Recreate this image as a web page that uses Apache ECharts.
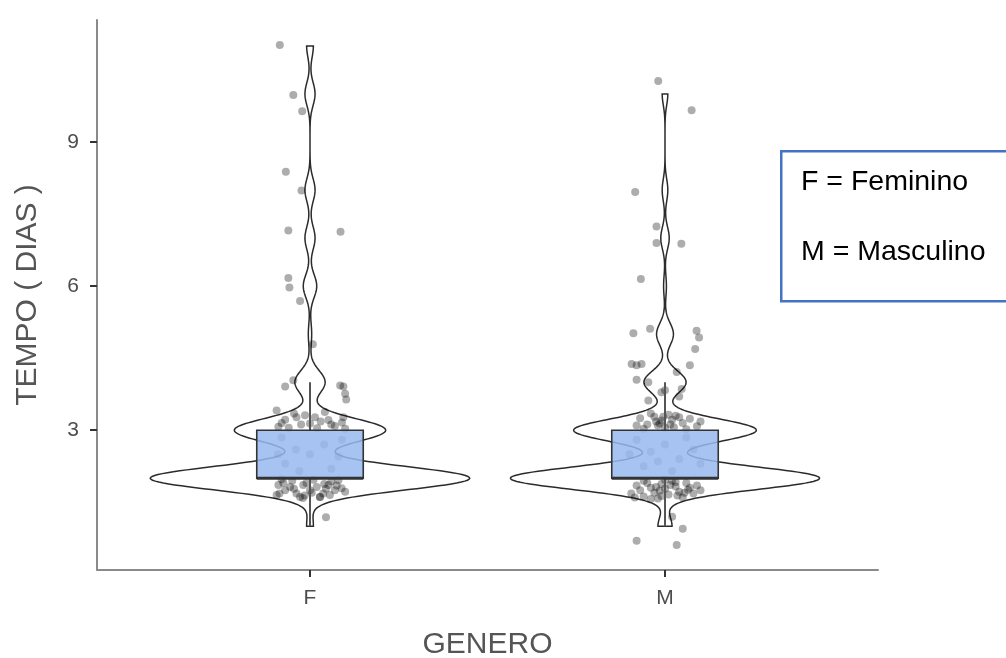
<!DOCTYPE html>
<html><head><meta charset="utf-8">
<script src="https://cdn.jsdelivr.net/npm/echarts@6/dist/echarts.min.js"></script>
<style>html,body{margin:0;padding:0;background:#fff}#c{width:1006px;height:658px}</style>
</head><body><div id="c"></div>
<script>
// ---- data ----
const categories = ['F', 'M'];
const yTicks = [3, 6, 9];
const days = [1, 2, 3, 4, 5, 6, 7, 8, 9, 10, 11];
const countsF = [2, 95, 45, 9, 1, 4, 3, 3, 0, 3, 2];
const countsM = [5, 110, 65, 15, 6, 1, 3, 2, 0, 2, 0];
const legendLines = ['F = Feminino', 'M = Masculino'];
const axisTitleX = 'GENERO';
const axisTitleY = 'TEMPO ( DIAS )';
// jittered observations [x, y] (x = group position + jitter)
const pointsF = [
  [0.915,11.02],[0.953,9.98],[0.978,9.64],[0.932,8.38],[0.976,7.99],[0.939,7.16],[1.086,7.13],
  [0.939,6.17],[0.942,5.97],[0.972,5.69],[1.008,4.79],[0.953,4.04],[0.930,3.91],[1.085,3.93],
  [1.094,3.91],[1.099,3.76],[1.102,3.64],
  [0.906,3.41],[0.962,3.27],[0.986,3.31],[1.014,3.27],[1.042,3.38],[1.052,3.21],[1.094,3.27],
  [0.911,3.07],[1.0,3.14],[1.099,3.03],[0.93,3.22],[0.975,3.12],[1.03,3.18],[1.07,3.09],[0.955,3.35],
  [0.94,3.05],[1.02,3.04],[1.06,3.12],[0.92,3.15],[1.09,3.16],
  [0.92,2.85],[0.96,2.6],[1.04,2.7],[1.08,2.45],[0.93,2.3],[1.0,2.5],[1.06,2.2],[0.97,2.15],[0.91,2.5],[1.09,2.8],
  [0.911,1.86],[0.930,1.75],[0.944,1.82],[0.962,1.68],[0.981,1.86],[1.0,1.75],[1.019,1.82],[1.037,1.68],
  [1.052,1.86],[1.070,1.75],[1.089,1.79],[1.099,1.72],[0.914,1.68],[0.972,1.61],[1.028,1.61],[1.056,1.65],
  [0.906,1.65],[0.98,1.59],[1.028,1.61],[0.95,1.95],[1.01,1.97],[1.06,1.93],[0.92,1.98],[1.08,1.96],
  [0.99,1.9],[1.04,1.88],[0.955,1.78],[1.005,1.7],[1.045,1.78],[0.925,1.9],[1.075,1.85],[0.985,1.64],
  [1.045,1.19]
];
const pointsM = [
  [1.981,10.27],[2.075,9.66],[1.916,7.96],[1.976,7.24],[1.976,6.90],[2.046,6.88],[1.932,6.15],
  [1.911,5.02],[1.958,5.11],[2.089,5.07],[2.096,4.93],[2.085,4.69],[1.906,4.38],[1.920,4.35],
  [1.934,4.38],[2.070,4.35],[1.920,4.05],[1.953,4.0],[2.033,4.21],[2.047,3.86],[2.0,3.83],
  [1.953,3.62],[1.99,3.79],[2.04,3.70],
  [1.93,3.25],[1.95,3.12],[1.97,3.28],[1.99,3.2],[2.0,3.05],[2.02,3.22],[2.03,3.3],[2.05,3.15],
  [2.07,3.24],[2.09,3.08],[2.1,3.18],[1.92,3.1],[1.96,3.35],[2.01,3.32],[2.06,3.02],[1.98,3.1],
  [2.04,3.27],[1.94,3.03],[1.975,3.18],[2.015,3.12],[1.995,3.28],[2.025,3.06],[1.985,3.14],
  [1.92,2.8],[1.96,2.55],[2.0,2.7],[2.04,2.4],[2.08,2.6],[1.94,2.25],[2.02,2.15],[2.06,2.85],
  [1.98,2.35],[2.1,2.3],[1.9,2.5],
  [1.905,1.68],[1.92,1.85],[1.93,1.75],[1.94,1.62],[1.95,1.9],[1.96,1.8],[1.97,1.7],[1.98,1.58],
  [1.99,1.88],[2.0,1.78],[2.01,1.66],[2.02,1.95],[2.03,1.83],[2.04,1.72],[2.05,1.6],[2.06,1.9],
  [2.07,1.8],[2.08,1.68],[2.09,1.85],[2.1,1.75],[1.94,1.95],[1.99,1.63],[2.03,1.92],[1.96,1.57],
  [2.055,1.7],[1.915,1.6],[2.0,1.97],[1.975,1.82],[2.015,1.86],[2.035,1.64],[1.985,1.74],[2.065,1.76],
  [2.02,1.20],[2.05,0.95],[1.92,0.70],[2.033,0.61]
];

// ---- statistics (density + box stats from the counts) ----
function expand(counts){const v=[];counts.forEach((c,i)=>{for(let k=0;k<c;k++)v.push(days[i]);});return v;}
function quant(s,p){const h=(s.length-1)*p,lo=Math.floor(h);return lo+1<s.length?s[lo]+(h-lo)*(s[lo+1]-s[lo]):s[lo];}
function stats(counts){
  const v=expand(counts).sort((a,b)=>a-b), n=v.length;
  const mean=v.reduce((a,b)=>a+b,0)/n;
  const sd=Math.sqrt(v.reduce((a,b)=>a+(b-mean)*(b-mean),0)/(n-1));
  const q1=quant(v,0.25), med=quant(v,0.5), q3=quant(v,0.75), iqr=q3-q1;
  const bw=0.9*Math.min(sd,iqr/1.34)*Math.pow(n,-0.2);
  const lo=v[0], hi=v[n-1], ys=[], ds=[];
  for(let i=0;i<512;i++){
    const y=lo+(hi-lo)*i/511; let d=0;
    counts.forEach((c,j)=>{if(c){const z=(y-days[j])/bw;d+=c*Math.exp(-0.5*z*z);}});
    ys.push(y); ds.push(d/(n*bw*Math.sqrt(2*Math.PI)));
  }
  const wl=v.find(x=>x>=q1-1.5*iqr), wh=[...v].reverse().find(x=>x<=q3+1.5*iqr);
  return {ys,ds,q1,med,q3,wl,wh};
}
const groups=[stats(countsF),stats(countsM)];
const maxD=Math.max(...groups.map(g=>Math.max(...g.ds)));
const allY=pointsF.concat(pointsM).map(p=>p[1]);
const yLo=Math.min(...allY), yHi=Math.max(...allY), yPad=(yHi-yLo)*0.05;

const FONT="'Liberation Sans', Arial, sans-serif";
const chart=echarts.init(document.getElementById('c'));
chart.setOption({
  animation:false,
  backgroundColor:'#fff',
  grid:{left:97,right:128,top:20,bottom:88,containLabel:false,outerBoundsMode:'none'},
  xAxis:{
    type:'value',min:0.4,max:2.6,
    axisLine:{show:true,lineStyle:{color:'#8a8a8a',width:2}},
    axisTick:{show:true,customValues:[1,2],length:7,lineStyle:{color:'#333',width:2}},
    axisLabel:{customValues:[1,2],formatter:v=>categories[Math.round(v)-1],fontSize:21,color:'#4d4d4d',margin:18,fontFamily:FONT},
    splitLine:{show:false},
    name:axisTitleX,nameLocation:'middle',nameGap:60,
    nameTextStyle:{fontSize:30,color:'#555',fontFamily:FONT}
  },
  yAxis:{
    type:'value',min:yLo-yPad,max:yHi+yPad,
    axisLine:{show:true,lineStyle:{color:'#8a8a8a',width:2}},
    axisTick:{show:true,customValues:yTicks,length:7,lineStyle:{color:'#333',width:2}},
    axisLabel:{customValues:yTicks,fontSize:21,color:'#4d4d4d',margin:18,fontFamily:FONT},
    splitLine:{show:false},
    name:axisTitleY,nameLocation:'middle',nameGap:54,
    nameTextStyle:{fontSize:30,color:'#555',fontFamily:FONT}
  },
  series:[
    {
      type:'custom',z:1,silent:true,
      data:groups.map((g,i)=>[i+1,g.med]),
      encode:{x:0,y:1},
      renderItem:(params,api)=>{
        const g=groups[params.dataIndex], cx=api.value(0), pts=[];
        for(let i=0;i<g.ys.length;i++) pts.push(api.coord([cx-g.ds[i]/maxD*0.45,g.ys[i]]));
        for(let i=g.ys.length-1;i>=0;i--) pts.push(api.coord([cx+g.ds[i]/maxD*0.45,g.ys[i]]));
        return {type:'polygon',shape:{points:pts},style:{fill:'rgba(255,255,255,0)',stroke:'#2b2b2b',lineWidth:1.5}};
      }
    },
    {
      type:'scatter',z:2,symbolSize:8,silent:true,
      itemStyle:{color:'rgba(0,0,0,0.4)'},
      data:pointsF.concat(pointsM)
    },
    {
      type:'custom',z:3,silent:true,
      data:groups.map((g,i)=>[i+1,g.wl,g.q1,g.med,g.q3,g.wh]),
      encode:{x:0,y:[1,2,3,4,5]},
      renderItem:(params,api)=>{
        const cx=api.value(0), hw=0.15;
        const pLo=api.coord([cx,api.value(1)]), pQ1=api.coord([cx,api.value(2)]);
        const pMed=api.coord([cx,api.value(3)]), pQ3=api.coord([cx,api.value(4)]), pHi=api.coord([cx,api.value(5)]);
        const l=api.coord([cx-hw,api.value(3)])[0], r=api.coord([cx+hw,api.value(3)])[0];
        return {type:'group',children:[
          {type:'line',shape:{x1:pLo[0],y1:pLo[1],x2:pQ1[0],y2:pQ1[1]},style:{stroke:'#555',lineWidth:2}},
          {type:'line',shape:{x1:pQ3[0],y1:pQ3[1],x2:pHi[0],y2:pHi[1]},style:{stroke:'#555',lineWidth:2}},
          {type:'rect',shape:{x:l,y:pQ3[1],width:r-l,height:pQ1[1]-pQ3[1]},style:{fill:'rgba(150,185,238,0.85)',stroke:'#333',lineWidth:1.6}},
          {type:'line',shape:{x1:l,y1:pMed[1],x2:r,y2:pMed[1]},style:{stroke:'#333',lineWidth:3}}
        ]};
      }
    }
  ],
  graphic:[
    {type:'rect',left:780,top:150,shape:{width:260,height:150},style:{fill:'#fff',stroke:'#4472C4',lineWidth:2.5},z:10},
    {type:'text',left:801,top:168,style:{text:legendLines[0],font:'28.5px '+FONT,fill:'#000'},z:11},
    {type:'text',left:801,top:238,style:{text:legendLines[1],font:'28.5px '+FONT,fill:'#000'},z:11}
  ]
});
</script></body></html>
